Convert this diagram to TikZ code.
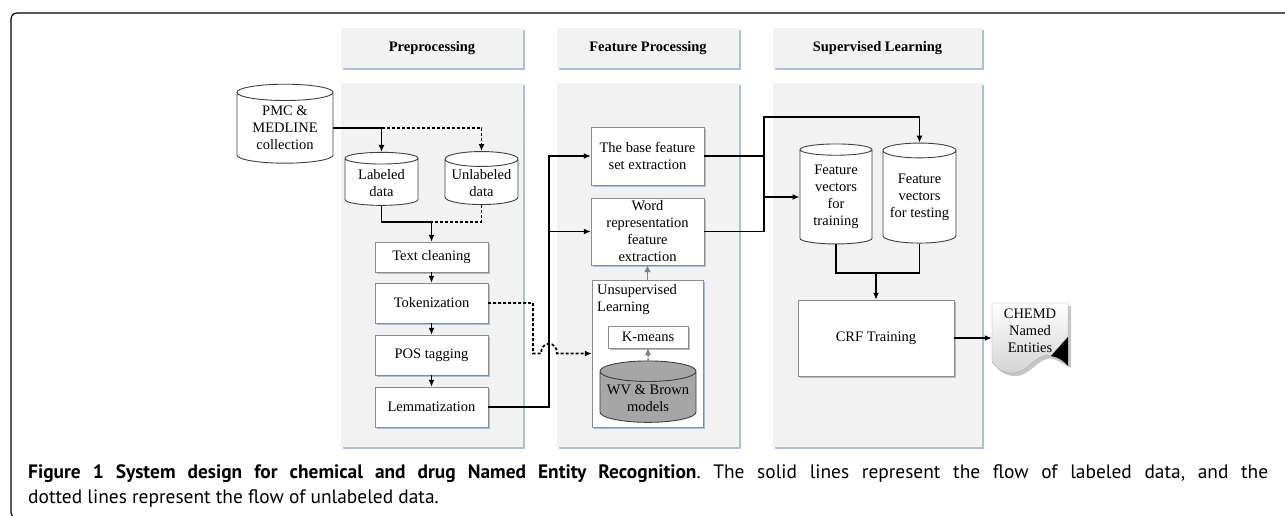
\documentclass[tikz,border=0pt]{standalone}
\usepackage{fontspec}
\setmainfont{Liberation Serif}
\newfontfamily\capfont{PT Sans}
\usetikzlibrary{shapes.geometric,arrows.meta,shadows}
\definecolor{pane}{HTML}{F2F2F2}
\definecolor{shade}{HTML}{A9BFDD}
\definecolor{edge}{HTML}{8C8C8C}
\definecolor{drum}{HTML}{A6A6A6}
\tikzset{
	blueshadow/.style={drop shadow={shadow xshift=2pt, shadow yshift=-2pt, fill=shade, opacity=1}},
	panel/.style={fill=pane, minimum width=182, minimum height=364, inner sep=0, blueshadow},
	headbox/.style={fill=pane, minimum width=182, minimum height=40, inner sep=0, font=\fontsize{14.5}{17}\selectfont\bfseries, blueshadow},
	procbox/.style={draw=edge, fill=white, minimum width=113, minimum height=40, inner sep=1pt, align=center, blueshadow},
	dbcan/.style={cylinder, shape border rotate=90, aspect=0.25, draw=black!75, line width=0.9pt, fill=white, inner sep=0, align=center, execute at begin node={\rule{0pt}{30pt}}},
	arr/.style={line width=1.8pt, -{Latex[length=7pt,width=6pt]}},
	dsh/.style={line width=1.8pt, dash pattern=on 3pt off 2pt},
	garr/.style={draw=gray, line width=1.5pt, -{Latex[length=7pt,width=7pt]}}
}
\begin{document}
\begin{tikzpicture}[x=1pt,y=-1pt, font=\fontsize{14.5}{17}\selectfont]
	\useasboundingbox (0,0) rectangle (1285,516);
	\draw[line width=1.2pt, rounded corners=6pt] (1295,13) -| (11,518) -- (1295,518);

	\node (hp)[headbox] at (432,48) {Preprocessing};
	\node (hf)[headbox] at (648,48) {Feature Processing};
	\node (hs)[headbox, minimum width=209] at (877.5,48) {Supervised Learning};
	\node (pp)[panel] at (432,265) {};
	\node (pf)[panel] at (648,265) {};
	\node (ps)[panel, minimum width=209] at (877.5,265) {};

	\node (pmc)[dbcan, minimum width=96, minimum height=79] at (285,128) {PMC \&\\MEDLINE\\collection};
	\node (lab)[dbcan, minimum width=73, minimum height=53] at (381.5,182) {Labeled\\data};
	\node (unl)[dbcan, minimum width=73, minimum height=53] at (481.5,182) {Unlabeled\\data};
	\node (txt)[procbox, minimum height=30] at (431.5,257) {Text cleaning};
	\node (tok)[procbox] at (431.5,303) {Tokenization};
	\node (pos)[procbox] at (431.5,355) {POS tagging};
	\node (lem)[procbox] at (431.5,407) {Lemmatization};

	\node (base)[procbox, minimum height=58] at (647.5,156) {The base feature\\set extraction};
	\node (word)[procbox, minimum height=67] at (647.5,231.5) {Word\\representation\\feature\\extraction};
	\node (uns)[procbox, minimum width=111, minimum height=147] at (647.5,353.5) {};
	\node (unt)[anchor=north west, align=left, inner sep=0] at (597,284) {Unsupervised\\Learning};
	\node (km)[procbox, minimum width=80, minimum height=22] at (648,337) {K-means};
	\node (wv)[dbcan, fill=drum, minimum width=96, minimum height=61] at (648,397) {WV \& Brown\\models};

	\node (tr)[dbcan, minimum width=72, minimum height=100] at (836,197) {Feature\\vectors\\for\\training};
	\node (te)[dbcan, minimum width=73, minimum height=100] at (919.5,197) {Feature\\vectors\\for testing};
	\node (crf)[procbox, minimum width=156, minimum height=76] at (876,338) {CRF Training};

	\fill[gray!45] (995,306)--(1071,306)--(1071,368)--(1054,359) .. controls (1038,355) and (1031,378) .. (1013,376) .. controls (1003,375) and (998,369) .. (995,365)--cycle;
	\draw[gray!70, top color=white, bottom color=gray!35] (992,303)--(1068,303)--(1068,337)--(1051,356) .. controls (1035,352) and (1028,375) .. (1010,373) .. controls (1000,372) and (995,366) .. (992,362)--cycle;
	\fill (1068,337)--(1051,356) .. controls (1058,357) and (1064,361) .. (1068,366)--cycle;
	\node (doc)[minimum width=76, minimum height=50, inner sep=0, align=center] at (1030,331) {CHEMD\\Named\\Entities};

	\coordinate (j1) at ([yshift=20pt]txt.north);
	\coordinate (bus) at (549,156);
	\coordinate (rb) at (764,117);
	\coordinate (j2) at ([yshift=27pt]crf.north);

	\draw[arr] (pmc.east) -| (lab.north);
	\draw[dsh, -{Latex[length=7pt,width=6pt]}] (pmc.east -| lab.north) -| (unl.north);
	\draw[arr] (lab.south) |- (j1) -- (txt.north);
	\draw[dsh] (unl.south) |- (j1);
	\draw[arr] (txt) -- (tok);
	\draw[arr] (tok) -- (pos);
	\draw[arr] (pos) -- (lem);
	\draw[dsh, -{Latex[length=7pt,width=6pt]}] (tok.east) -| (533,353.5) -- (541,353.5) .. controls +(0,-13) and +(0,-13) .. (557,353.5) -- (uns.west);
	\draw[arr] (lem.east) -| (bus) -- (base.west);
	\draw[arr] (word.west -| bus) -- (word.west);
	\draw[garr] (uns.north) -- (word.south);
	\draw[garr, dash pattern=on 2pt off 1.5pt] (wv.north) -- (km.south);
	\draw[line width=1.8pt] (base.east) -- (base.east -| rb);
	\draw[arr] (word.east) -| (rb) -| (te.north);
	\draw[arr] (tr.west -| rb) -- (tr.west);
	\draw[line width=1.8pt] (tr.south) |- (j2) -| (te.south);
	\draw[arr] (j2) -- (crf.north);
	\draw[arr] (crf.east) -- (crf.east -| doc.west);

	\node (cap)[anchor=north west, inner sep=0, text width=1240, align=justify, font=\capfont\fontsize{19.4}{25}\selectfont\frenchspacing] at (28,464) {{\bfseries Figure 1 System design for chemical and drug Named Entity Recognition}. The solid lines represent the flow of labeled data, and the\linebreak dotted lines represent the flow of unlabeled data.};
\end{tikzpicture}
\end{document}
